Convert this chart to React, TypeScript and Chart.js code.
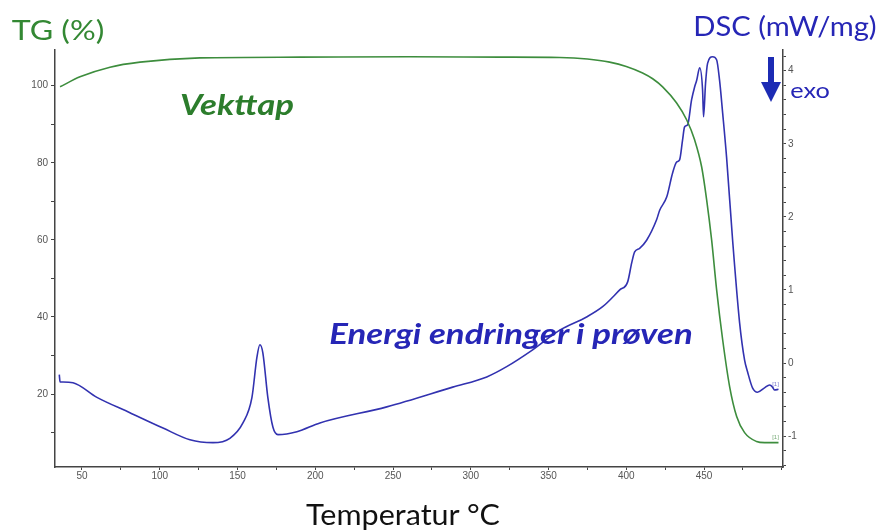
import React, { useEffect, useRef } from "react";
import { Chart, registerables } from "chart.js";
Chart.register(...registerables);

// ---- Data ----
const tgTemps = [35.9, 48.7, 68.0, 87.3, 125.8, 190.1, 260, 318.6, 357.2, 375, 389.3, 400, 410.5, 417, 423.4, 432.4, 438.9, 444.0, 448.5, 451.7, 454.9, 458.1, 462.0, 466.5, 471.0, 476.1, 483.8, 489.0, 497.9];
const tgValues = [99.7, 102.3, 104.8, 106.1, 107.2, 107.4, 107.5, 107.4, 107.3, 106.9, 106.1, 105.0, 103.3, 101.8, 99.7, 95.5, 91.1, 85.9, 78.9, 70.4, 60.0, 47.1, 34.1, 21.9, 14.2, 10.0, 7.7, 7.4, 7.4];

const dscTemps = [35.4, 35.9, 37.8, 44.2, 59.6, 80.8, 102.1, 119.4, 134.2, 145.1, 153.5, 159.3, 162.5, 164.4, 166.3, 169.5, 172.8, 176.0, 188.2, 203.0, 246.0, 288.4, 310.3, 323.1, 339.8, 357.2, 374.5, 384.8, 395.8, 400.9, 403.5, 405.4, 408.6, 413.1, 419.5, 421.5, 426.0, 429.8, 432.4, 434.3, 436.2, 437.5, 439.5, 442.0, 444.0, 445.3, 447.2, 449.1, 449.7, 451.0, 452.3, 455.5, 458.1, 460.0, 462.0, 464.5, 468.4, 472.9, 476.1, 478.0, 481.2, 484.4, 488.9, 492.2, 494.1, 495.3, 497.9];
const dscValues = [-0.16, -0.26, -0.26, -0.27, -0.47, -0.68, -0.89, -1.05, -1.09, -1.03, -0.82, -0.47, 0.08, 0.25, 0.14, -0.47, -0.88, -0.98, -0.94, -0.82, -0.60, -0.33, -0.19, -0.05, 0.18, 0.45, 0.63, 0.77, 1.00, 1.11, 1.37, 1.52, 1.57, 1.68, 1.96, 2.09, 2.27, 2.60, 2.75, 2.78, 3.05, 3.23, 3.26, 3.60, 3.78, 3.87, 4.04, 3.73, 3.37, 3.83, 4.10, 4.19, 4.15, 3.87, 3.42, 2.82, 1.68, 0.55, 0.04, -0.12, -0.34, -0.40, -0.34, -0.30, -0.33, -0.37, -0.36];

const xTickLabels = [50, 100, 150, 200, 250, 300, 350, 400, 450];
const tgTickLabels = [20, 40, 60, 80, 100];
const dscTickLabels = [-1, 0, 1, 2, 3, 4];

const GREEN_LINE = "#3d8d3d";
const BLUE_LINE = "#3232b0";
const GREEN_TEXT = "#338833";
const BLUE_TEXT = "#2626b6";
const AXIS = "#444444";
const TICK_TEXT = "#555555";

const isLabel = (list: number[], v: number) => list.some((l) => Math.abs(l - v) < 1e-6);

export default function App() {
  const ref = useRef<HTMLCanvasElement>(null);

  useEffect(() => {
    if (!ref.current) return;
    const endLabels = {
      id: "endLabels",
      afterDatasetsDraw(chart: any) {
        const ctx = chart.ctx;
        ctx.save();
        ctx.font = "6px 'Liberation Sans'";
        ctx.textAlign = "center";
        ctx.textBaseline = "bottom";
        const colors = ["#77aa77", "#7777cc"];
        chart.data.datasets.forEach((ds: any, i: number) => {
          const meta = chart.getDatasetMeta(i);
          const last = meta.data[meta.data.length - 1];
          if (!last) return;
          ctx.fillStyle = colors[i];
          ctx.fillText("[1]", last.x - 3, last.y - 2);
        });
        ctx.restore();
      },
    };

    const tickFont = { family: "'Liberation Sans', Arial, sans-serif", size: 10 };

    const chart = new Chart(ref.current, {
      type: "line",
      data: {
        datasets: [
          {
            label: "TG",
            data: tgTemps.map((t, i) => ({ x: t, y: tgValues[i] })),
            yAxisID: "y",
            borderColor: GREEN_LINE,
            borderWidth: 1.6,
            pointRadius: 0,
            fill: false,
            cubicInterpolationMode: "monotone",
          },
          {
            label: "DSC",
            data: dscTemps.map((t, i) => ({ x: t, y: dscValues[i] })),
            yAxisID: "y1",
            borderColor: BLUE_LINE,
            borderWidth: 1.6,
            pointRadius: 0,
            fill: false,
            cubicInterpolationMode: "monotone",
          },
        ],
      },
      options: {
        animation: false,
        responsive: false,
        maintainAspectRatio: false,
        layout: { padding: { top: 50, left: 0, right: 0, bottom: 0 } },
        plugins: { legend: { display: false }, tooltip: { enabled: false } },
        scales: {
          x: {
            type: "linear",
            min: 32.64,
            max: 500.8,
            afterFit(s: any) {
              s.height = 65;
            },
            border: { display: true, color: AXIS, width: 1.5 },
            grid: { display: true, drawOnChartArea: false, drawTicks: true, tickLength: 3, color: AXIS },
            ticks: {
              stepSize: 25,
              includeBounds: false,
              autoSkip: false,
              maxRotation: 0,
              padding: 0,
              color: TICK_TEXT,
              font: tickFont,
              callback: (v: any) => (isLabel(xTickLabels, Number(v)) ? String(v) : ""),
            },
          },
          y: {
            type: "linear",
            position: "left",
            min: 1.09,
            max: 109.25,
            afterFit(s: any) {
              s.width = 55;
            },
            border: { display: true, color: AXIS, width: 1.5 },
            grid: { display: true, drawOnChartArea: false, drawTicks: true, tickLength: 4, color: AXIS },
            ticks: {
              stepSize: 10,
              includeBounds: false,
              autoSkip: false,
              padding: 3,
              color: TICK_TEXT,
              font: tickFont,
              callback: (v: any) => (isLabel(tgTickLabels, Number(v)) ? String(v) : ""),
            },
          },
          y1: {
            type: "linear",
            position: "right",
            min: -1.423,
            max: 4.283,
            afterFit(s: any) {
              s.width = 112;
            },
            border: { display: true, color: AXIS, width: 1.5 },
            grid: { display: true, drawOnChartArea: false, drawTicks: true, tickLength: 3, color: AXIS },
            ticks: {
              stepSize: 0.2,
              includeBounds: false,
              autoSkip: false,
              padding: 2,
              color: TICK_TEXT,
              font: tickFont,
              callback: (v: any) => (isLabel(dscTickLabels, Number(v)) ? String(Math.round(Number(v))) : ""),
            },
          },
        },
      },
      plugins: [endLabels],
    } as any);
    return () => chart.destroy();
  }, []);

  const txt = (x: number, y: number, size: number, color: string, sx: number, extra: any = {}) => ({
    position: "absolute" as const,
    left: x,
    top: y,
    transform: `translate(-50%, -50%) scaleX(${sx})`,
    fontFamily: "Lato, 'Open Sans', sans-serif",
    fontSize: size,
    lineHeight: 1,
    whiteSpace: "nowrap" as const,
    color,
    ...extra,
  });

  return (
    <div style={{ position: "absolute", left: 0, top: 0, width: 895, height: 532, background: "#fff", overflow: "hidden" }}>
      <canvas ref={ref} width={895} height={532} style={{ position: "absolute", left: 0, top: 0, width: 895, height: 532 }} />
      <div style={txt(58, 29, 27, GREEN_TEXT, 1.19)}>TG (%)</div>
      <div style={txt(785, 25, 27, BLUE_TEXT, 1.08)}>DSC (mW/mg)</div>
      <div style={txt(810, 90, 22, BLUE_TEXT, 1.15)}>exo</div>
      <div style={txt(237, 104, 28, "#2c7d2c", 1.24, { fontWeight: 700, fontStyle: "italic" })}>Vekttap</div>
      <div style={txt(511, 333, 28, BLUE_TEXT, 1.24, { fontWeight: 700, fontStyle: "italic" })}>Energi endringer i prøven</div>
      <div style={txt(403, 514, 28, "#111", 1.09)}>Temperatur °C</div>
      <svg width={30} height={55} style={{ position: "absolute", left: 756, top: 52 }}>
        <rect x={12} y={5} width={6} height={27} fill="#1c2bb4" />
        <polygon points="5,30 25,30 15,50" fill="#1c2bb4" />
      </svg>
    </div>
  );
}
